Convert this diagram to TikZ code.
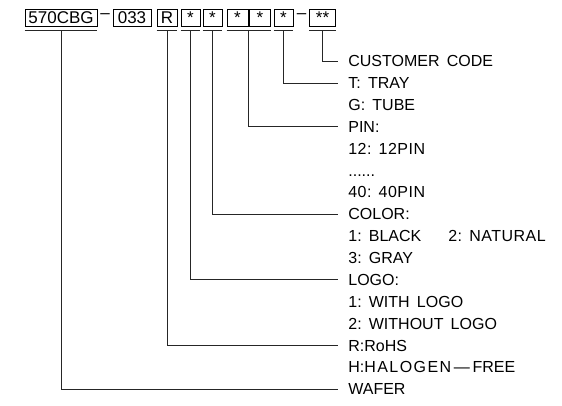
\documentclass[tikz,border=0pt]{standalone}
\usepackage{fontspec}
\setmainfont{Liberation Sans}
\usetikzlibrary{positioning,calc}
\newcommand{\gp}{\hspace{0.45em}}
\newcommand{\pindots}{......}
\newcommand{\wide}[2]{{\addfontfeature{LetterSpace=#1}#2}}

\begin{document}
\begin{tikzpicture}[
    x=1pt, y=-1pt,
    line width=0.7pt,
    digit/.style={draw, minimum height=17pt, inner sep=0pt,
                  text height=12pt, text depth=0pt,
                  font=\fontsize{17}{17}\selectfont},
    hyph/.style={inner sep=0pt, font=\fontsize{17}{17}\selectfont},
    lbl/.style={anchor=west, inner xsep=10pt, inner ysep=0pt,
                text height=11.5pt, text depth=0pt,
                font=\fontsize{16}{17}\selectfont},
    lead/.style={draw, black!85},
  ]
  \useasboundingbox (0,0) rectangle (562,406);

  % Part number
  \node[digit, minimum width=72pt] at (61,17.5) (wafer) {570CBG};
  \node[hyph] at (105,16.5) (d1) {\textendash};
  \node[digit, minimum width=38pt] at (132,17.5) (grade) {033};
  \node[digit, minimum width=20pt] at (167,17.5) (rohs) {R};
  \node[digit, minimum width=19pt] at (190.5,17.5) (logo) {*};
  \node[digit, minimum width=19pt] at (212.5,17.5) (color) {*};
  \node[digit, minimum width=21pt] at (237.5,17.5) (pina) {*};
  \node[digit, minimum width=21pt] at (260,17.5) (pinb) {*};
  \node[digit, minimum width=19pt] at (283.5,17.5) (pack) {*};
  \node[hyph] at (301.5,16.5) (d2) {\textendash};
  \node[digit, minimum width=26pt] at (322.5,17.5) (cust) {**};

  % Underlines
  \foreach \b in {wafer,rohs,logo,color,pack,cust}
    \draw[lead] ([yshift=-4pt]\b.south west) -- ([yshift=-4pt]\b.south east);
  \draw[lead] ([yshift=-4pt]pina.south west) -- ([yshift=-4pt]pinb.south east);

  % Legend
  \foreach \t [count=\i from 0] in {%
      CUSTOMER\hspace{0.45em}CODE, T:\gp TRAY, G:\gp TUBE, PIN:,
      \wide{3}{12:\gp 12PIN}, \pindots, \wide{3}{40:\gp 40PIN}, COLOR:,
      1:\gp BLACK, 3:\gp GRAY, LOGO:, 1:\gp WITH\gp LOGO,
      2:\gp WITHOUT\gp LOGO, R:RoHS,
      H:\wide{9}{HALOGEN}\,\textemdash\,FREE, WAFER}
    \node[lbl] at (338,{61+21.87*\i}) (l\i) {\t};
  \node[lbl, anchor=west, inner xsep=0pt] at (448,{61+21.87*8}) (l8b)
    {\wide{3}{2:\gp NATURAL}};

  % Leaders
  \draw[lead] ([yshift=-4pt]cust.south) |- (l0.west);
  \draw[lead] ([yshift=-4pt]pack.south) |- (l1.west);
  \draw[lead] ($([yshift=-4pt]pina.south east)!0.5!([yshift=-4pt]pinb.south west)$)
    |- (l3.west);
  \draw[lead] ([yshift=-4pt]color.south) |- (l7.west);
  \draw[lead] ([yshift=-4pt]logo.south) |- (l10.west);
  \draw[lead] ([yshift=-4pt]rohs.south) |- (l13.west);
  \draw[lead] ([yshift=-4pt]wafer.south) |- (l15.west);

\end{tikzpicture}
\end{document}
